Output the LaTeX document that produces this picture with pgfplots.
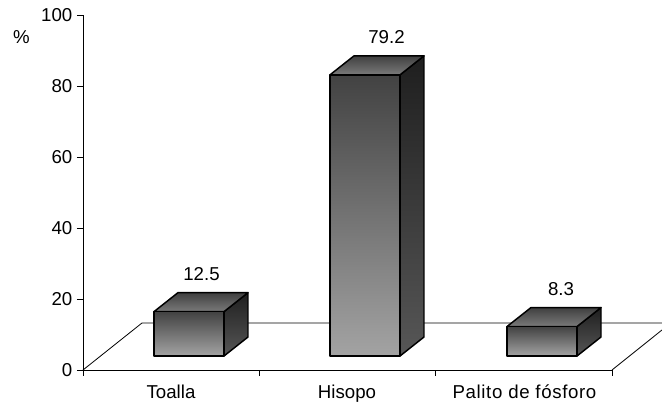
\documentclass[border=0pt]{standalone}
\usepackage{fontspec}
\setmainfont{Liberation Sans}
\usepackage{pgfplots}
\pgfplotsset{compat=1.18}

% 1 reference pixel = 0.75pt
\tikzset{
  front/.style={shade, top color=black!74, bottom color=black!36, draw=black, line width=1.1pt, line join=round},
  side/.style={shade, top color=black!88, bottom color=black!66, draw=black, line width=1.1pt, line join=round},
  lid/.style={shade, top color=black!75, bottom color=black!52, draw=black, line width=1.1pt, line join=round},
}
\newcommand{\lblfont}{\fontsize{14}{16}\selectfont}
\pgfplotsset{
  common/.style={
    scale only axis, width=396.75pt, height=266.25pt,
    at={(0pt,0pt)}, anchor=south west,
    xmin=83, xmax=612, clip=false,
  },
}

\begin{document}
\begin{tikzpicture}
\useasboundingbox (-62.25pt,-27pt) rectangle (434.25pt,277.5pt);

% axes and floor
\begin{axis}[
  common,
  ymin=0, ymax=100,
  axis x line*=bottom, axis y line*=left,
  axis line style={-, line width=0.65pt},
  tick style={black, line width=0.65pt},
  tick align=outside, major tick length=4.5pt,
  ytick={0,20,40,60,80,100},
  xtick={83,259.33,435.67,612}, xticklabels={},
  extra x ticks={171,347,524.5},
  extra x tick labels={Toalla,Hisopo,{\addfontfeatures{LetterSpace=3.4}Palito de fósforo}},
  extra x tick style={major tick length=0pt},
  x tick label style={yshift=-7.5pt},
  y tick label style={/pgf/number format/assume math mode=true},
  tick label style={font=\lblfont},
]
\addplot[black, line width=0.6pt] coordinates {(83,0) (142,13.24) (662,13.24)};
\addplot[black, line width=0.6pt] coordinates {(612,0) (662,11.27)};
\node[font=\lblfont] at (axis cs:21.5,93.8) {\%};
\end{axis}

% bars, with their base on the floor
\begin{axis}[
  common,
  ymin=-3.94, ymax=96.06,
  hide axis,
]
% Toalla
\addplot[side] coordinates {(224,0) (248,5.35) (248,17.85) (224,12.5)} -- cycle;
\addplot[lid] coordinates {(154,12.5) (224,12.5) (248,17.85) (178,17.85)} -- cycle;
\addplot[ybar, bar width=52.5pt, bar shift=0pt, front] coordinates {(189,12.5)};
% Hisopo
\addplot[side] coordinates {(400,0) (424,5.35) (424,84.55) (400,79.2)} -- cycle;
\addplot[lid] coordinates {(330,79.2) (400,79.2) (424,84.55) (354,84.55)} -- cycle;
\addplot[ybar, bar width=52.5pt, bar shift=0pt, front] coordinates {(365,79.2)};
% Palito de fosforo
\addplot[side] coordinates {(577,0) (601,5.35) (601,13.65) (577,8.3)} -- cycle;
\addplot[lid] coordinates {(507,8.3) (577,8.3) (601,13.65) (531,13.65)} -- cycle;
\addplot[ybar, bar width=52.5pt, bar shift=0pt, front] coordinates {(542,8.3)};
% value labels
\addplot[draw=none, mark=none, nodes near coords, point meta=explicit symbolic,
  nodes near coords style={anchor=center, yshift=28pt, font=\lblfont}]
  coordinates {(201.5,12.5) [12.5] (386.5,79.2) [79.2] (561,8.3) [8.3]};
\end{axis}
\end{tikzpicture}
\end{document}
